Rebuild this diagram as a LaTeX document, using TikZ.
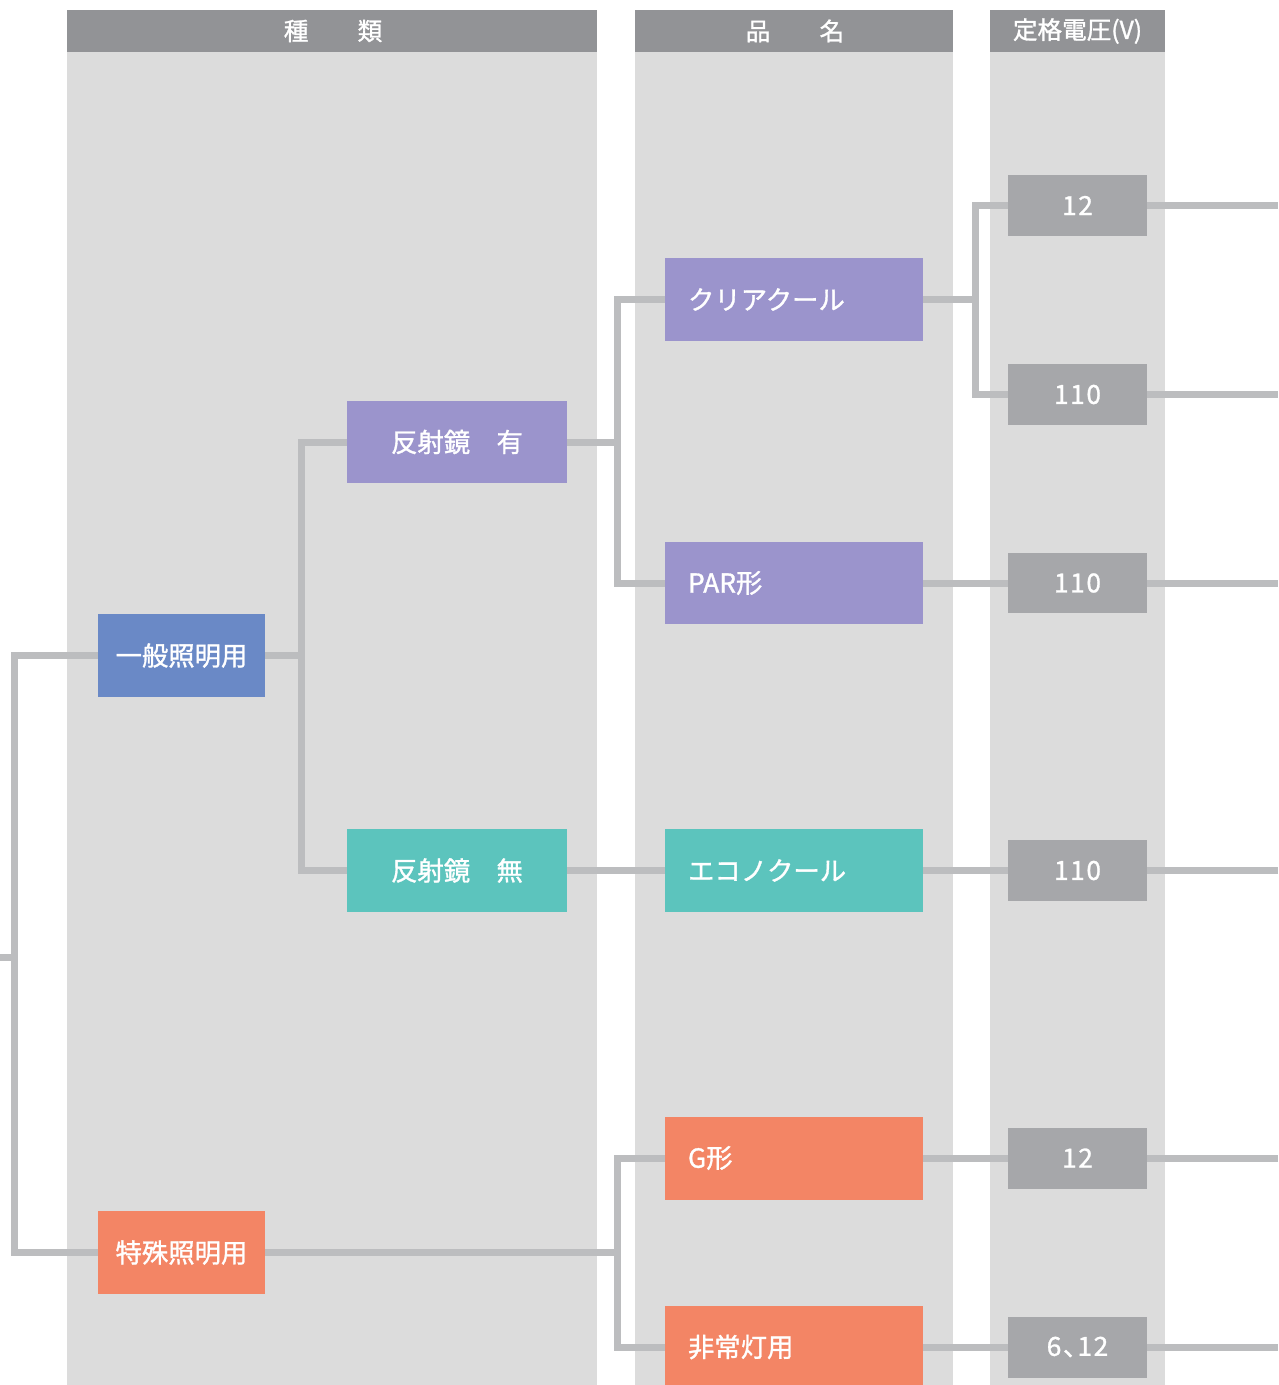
\documentclass[tikz,border=0pt]{standalone}
\usepackage{fontspec}
\usetikzlibrary{backgrounds}
\setmainfont{Noto Sans CJK JP}
\newfontfamily\boxfont[FakeBold=1.2]{Noto Sans CJK JP}
\newfontfamily\numfont[LetterSpace=6,FakeBold=1]{Noto Sans CJK JP}
\definecolor{headgray}{RGB}{146,147,150}
\definecolor{colgray}{RGB}{220,220,220}
\definecolor{linegray}{RGB}{188,189,191}
\definecolor{voltgray}{RGB}{166,167,170}
\definecolor{lampblue}{RGB}{106,137,198}
\definecolor{lamppurple}{RGB}{155,148,204}
\definecolor{lampteal}{RGB}{92,196,189}
\definecolor{lampsalmon}{RGB}{243,133,101}
\begin{document}
\begin{tikzpicture}[x=0.02cm, y=-0.02cm,
    header/.style={text=white, font=\boxfont\fontsize{14}{15}\selectfont},
    typebox/.style={shape=rectangle, text=white, inner sep=0pt, minimum width=3.34cm, minimum height=1.66cm, font=\boxfont\fontsize{15}{16}\selectfont},
    mirrorbox/.style={typebox, minimum width=4.4cm},
    namebox/.style={shape=rectangle, text=white, inner xsep=0.46cm, inner ysep=0pt, text width=4.24cm, align=left, minimum height=1.66cm, font=\boxfont\fontsize{15}{16}\selectfont},
    voltbox/.style={shape=rectangle, fill=voltgray, text=white, inner sep=0pt, minimum width=2.78cm, minimum height=1.22cm, font=\numfont\fontsize{15}{16}\selectfont},
    link/.style={draw=linegray, line width=0.14cm}]
    \useasboundingbox (0,0) rectangle (1278,1385);
    % columns
    \begin{pgfonlayer}{background}
    \fill[colgray] (67,52) rectangle (597,1385);
    \fill[colgray] (635,52) rectangle (953,1385);
    \fill[colgray] (990,52) rectangle (1165,1385);
    \fill[headgray] (67,10) rectangle (597,52);
    \fill[headgray] (635,10) rectangle (953,52);
    \fill[headgray] (990,10) rectangle (1165,52);
    \end{pgfonlayer}
    \node[name=hkind, header] at (333,31) {種　　類};
    \node[name=hname, header] at (795,31) {品　　名};
    \node[name=hvolt, header] at (1077.5,31) {定格電圧(V)};
    % type column
    \node[name=ippan, typebox, fill=lampblue] at (181.5,655.5) {一般照明用};
    \node[name=toku, typebox, fill=lampsalmon] at (181.5,1252.5) {特殊照明用};
    \node[name=ari, mirrorbox, fill=lamppurple] at (457,442) {反射鏡　有};
    \node[name=nashi, mirrorbox, fill=lampteal] at (457,870.5) {反射鏡　無};
    % product column
    \node[name=clear, namebox, fill=lamppurple] at (794,299.5) {クリアクール};
    \node[name=par, namebox, fill=lamppurple] at (794,583) {PAR形};
    \node[name=econo, namebox, fill=lampteal] at (794,870.5) {エコノクール};
    \node[name=gtype, namebox, fill=lampsalmon] at (794,1158) {G形};
    \node[name=emerg, namebox, fill=lampsalmon] at (794,1347) {非常灯用};
    % voltage column
    \node[name=v12a, voltbox] at (1077.5,205.5) {12};
    \node[name=v110a, voltbox] at (1077.5,394.5) {110};
    \node[name=v110b, voltbox] at (1077.5,583) {110};
    \node[name=v110c, voltbox] at (1077.5,870.5) {110};
    \node[name=v12b, voltbox] at (1077.5,1158) {12};
    \node[name=v612, voltbox] at (1077.5,1347) {6、\hspace{-0.45em}12};
    % free ends at the picture edges
    \coordinate (offleft) at (0,957);
    \coordinate (out12a) at (1278,205.5);
    \coordinate (out110a) at (1278,394.5);
    \coordinate (out110b) at (1278,583);
    \coordinate (out110c) at (1278,870.5);
    \coordinate (out12b) at (1278,1158);
    \coordinate (out612) at (1278,1347);
    % connectors, behind the boxes
    \begin{pgfonlayer}{background}
    \draw[link] (ippan.west) -- ++(-83,0) coordinate (trunk) |- (toku.west);
    \draw[link] (offleft) -- (offleft -| trunk);
    \draw[link] (ippan.east) -- ++(36,0) coordinate (mirrorjoin);
    \draw[link] (ari.west) -| (mirrorjoin) |- (nashi.west);
    \draw[link] (ari.east) -- ++(50,0) coordinate (arijoin);
    \draw[link] (clear.west) -| (arijoin) |- (par.west);
    \draw[link] (nashi.east) -- (econo.west);
    \draw[link] (toku.east) -- ++(352,0) coordinate (tokujoin);
    \draw[link] (gtype.west) -| (tokujoin) |- (emerg.west);
    \draw[link] (clear.east) -- ++(52,0) coordinate (clearjoin);
    \draw[link] (v12a.west) -| (clearjoin) |- (v110a.west);
    \draw[link] (par.east) -- (v110b.west);
    \draw[link] (econo.east) -- (v110c.west);
    \draw[link] (gtype.east) -- (v12b.west);
    \draw[link] (emerg.east) -- (v612.west);
    \draw[link] (v12a.east) -- (out12a);
    \draw[link] (v110a.east) -- (out110a);
    \draw[link] (v110b.east) -- (out110b);
    \draw[link] (v110c.east) -- (out110c);
    \draw[link] (v12b.east) -- (out12b);
    \draw[link] (v612.east) -- (out612);
    \end{pgfonlayer}
\end{tikzpicture}
\end{document}
